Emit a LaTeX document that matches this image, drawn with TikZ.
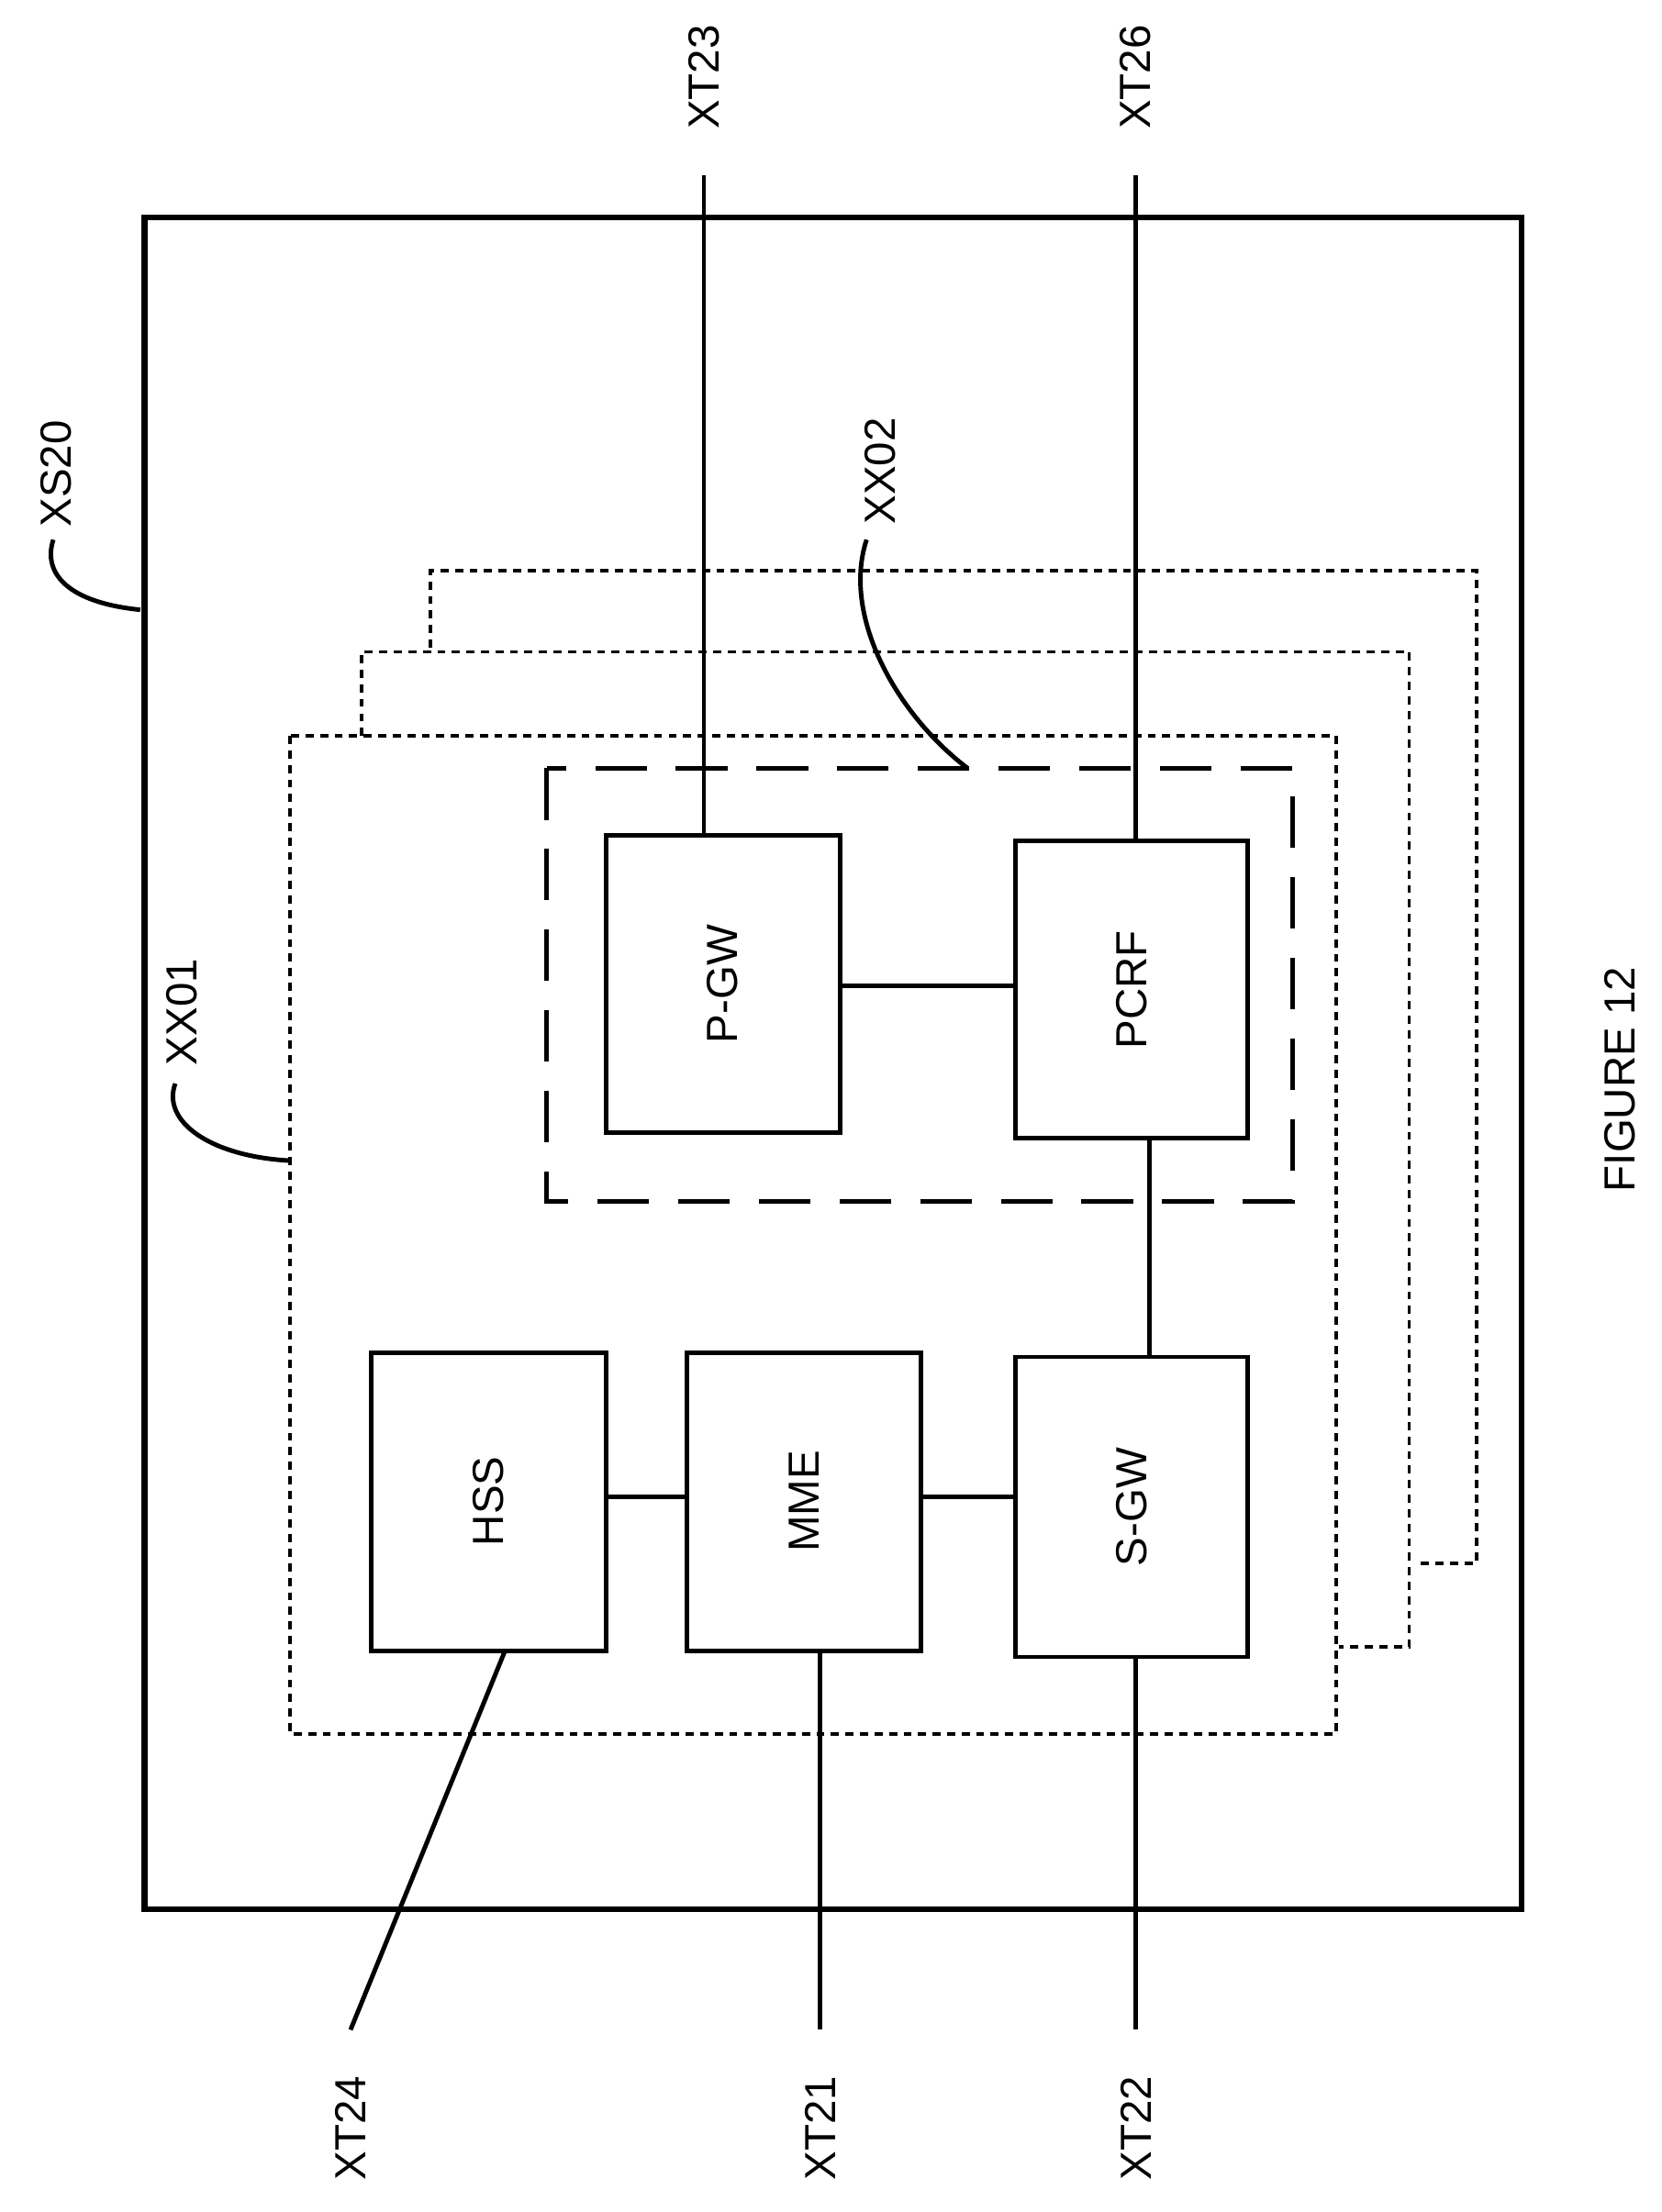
\documentclass[tikz,border=0pt]{standalone}
\usepackage{fontspec}
\setmainfont{Liberation Sans}
\begin{document}
\begin{tikzpicture}[x=0.015274cm,y=-0.015274cm,
  ln/.style={line width=1.4pt},
  dot/.style={line width=1.1pt,dash pattern=on 2.5pt off 2pt},
  dsh/.style={line width=1.4pt,dash pattern=on 16pt off 9pt},
  box/.style={draw,line width=1.4pt,minimum width=0pt,inner sep=0pt},
  lab/.style={rotate=90,font=\fontsize{13.5}{16}\selectfont}]
\useasboundingbox (0,0) rectangle (1185,1578);
% outer
\draw[line width=1.8pt] (103,155) rectangle (1085,1362);
% dotted stacks
\draw[dot] (307,462) -- (307,407) -- (1053,407) -- (1053,1115) -- (1010,1115);
\draw[dot] (258,525) -- (258,465) -- (1005,465) -- (1005,1175) -- (955,1175);
\draw[dot] (207,525) rectangle (953,1237);
% dashed XX02
\draw[dsh] (390,548) rectangle (922,857);
% boxes
\draw[ln] (432,596) rectangle (599,808); \node[lab] (pgw) at (515.5,702) {P-GW};
\draw[ln] (724,600) rectangle (890,812); \node[lab] (pcrf) at (807,706) {PCRF};
\draw[ln] (265,965) rectangle (432,1178); \node[lab] (hss) at (348.5,1071) {HSS};
\draw[ln] (490,965) rectangle (657,1178); \node[lab] (mme) at (573.5,1071) {MME};
\draw[ln] (724,968) rectangle (890,1182); \node[lab] (sgw) at (807,1075) {S-GW};
% links
\draw[ln] (599,703) -- (724,703);
\draw[ln] (820,812) -- (820,968);
\draw[ln] (432,1068) -- (490,1068);
\draw[ln] (657,1068) -- (724,1068);
% terminals
\draw[ln] (502,125) -- (502,596); \node[lab] (xt23) at (502,55) {XT23};
\draw[ln] (810,125) -- (810,600); \node[lab] (xt26) at (810,55) {XT26};
\draw[ln] (585,1178) -- (585,1448); \node[lab] (xt21) at (585,1518) {XT21};
\draw[ln] (810,1182) -- (810,1448); \node[lab] (xt22) at (810,1518) {XT22};
\draw[ln] (360,1178) -- (250,1448); \node[lab] (xt24) at (250,1518) {XT24};
% leaders
\draw[ln] (100,435) .. controls (50,430) and (30,410) .. (38,385);
\node[lab] (xs20) at (40,338) {XS20};
\draw[ln] (207,828) .. controls (150,825) and (115,800) .. (125,773);
\node[lab] (xx01) at (130,722) {XX01};
\draw[ln] (690,548) .. controls (640,510) and (600,440) .. (618,385);
\node[lab] (xx02) at (628,336) {XX02};
\node[lab] (fig) at (1155,770) {FIGURE 12};
\end{tikzpicture}
\end{document}
